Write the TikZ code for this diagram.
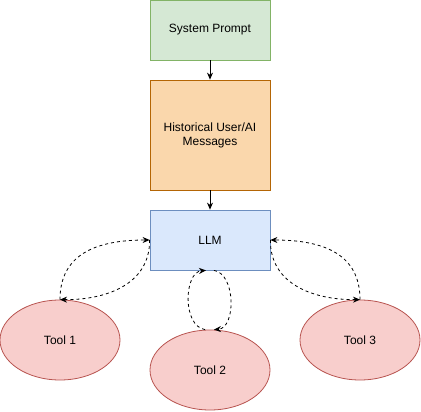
\documentclass[tikz,border=0pt]{standalone}
\usepackage{fontspec}
\setmainfont{Liberation Sans}
\usetikzlibrary{arrows.meta,shapes.geometric}
\definecolor{gfill}{HTML}{D5E8D4}\definecolor{gdraw}{HTML}{82B366}
\definecolor{ofill}{HTML}{FAD7AC}\definecolor{odraw}{HTML}{B46504}
\definecolor{bfill}{HTML}{DAE8FC}\definecolor{bdraw}{HTML}{6C8EBF}
\definecolor{rfill}{HTML}{F8CECC}\definecolor{rdraw}{HTML}{B85450}
\begin{document}
\begin{tikzpicture}[x=1pt,y=-1pt,
  box/.style={draw, line width=0.8pt, inner sep=0pt, align=center, minimum width=120pt, font=\fontsize{12}{14}\selectfont},
  tool/.style={draw=rdraw, fill=rfill, ellipse, line width=0.8pt, inner sep=0pt, minimum width=120pt, minimum height=80pt, font=\fontsize{12}{14}\selectfont},
  arr/.style={-{Stealth[length=7pt,width=6pt]}, line width=0.8pt},
  darr/.style={arr, dashed}]
\useasboundingbox (0,0) rectangle (421,412);
\node[box, draw=gdraw, fill=gfill, minimum height=60pt] (sp) at (210,30) {System Prompt};
\node[box, draw=odraw, fill=ofill, minimum height=110pt] (hist) at (210,135) {Historical User/AI\\Messages};
\node[box, draw=bdraw, fill=bfill, minimum height=60pt] (llm) at (210,240) {LLM};
\node[tool] (t1) at (60,340) {Tool 1};
\node[tool] (t2) at (210,370) {Tool 2};
\node[tool] (t3) at (360,340) {Tool 3};
\draw[arr] (sp.south) -- (hist.north);
\draw[arr] (hist.south) -- (llm.north);
% Tool 1
\draw[darr] (t1.north) .. controls (60,255) and (95,240) .. (llm.west);
\draw[darr] (llm.west) .. controls (150,285) and (105,300) .. (t1.north);
% Tool 3
\draw[darr] (t3.north) .. controls (360,255) and (325,240) .. (llm.east);
\draw[darr] (llm.east) .. controls (270,285) and (315,300) .. (t3.north);
% Tool 2
\draw[darr] ([xshift=-5pt]t2.north) .. controls (182,326) and (184,272) .. ([xshift=-4pt]llm.south);
\draw[darr] ([xshift=4pt]llm.south) .. controls (236,274) and (236,328) .. ([xshift=4pt]t2.north);
\end{tikzpicture}
\end{document}
